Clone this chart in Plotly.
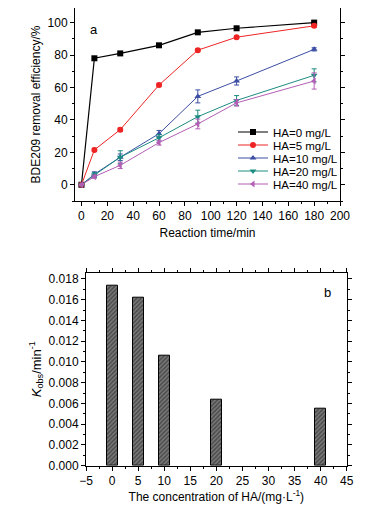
import plotly.graph_objects as go

# ---- Panel a data ----
time_min = [0, 10, 30, 60, 90, 120, 180]
series_names = ["HA=0 mg/L", "HA=5 mg/L", "HA=10 mg/L", "HA=20 mg/L", "HA=40 mg/L"]
ha0 = [0, 78, 81, 86, 94, 96.5, 100]
ha5 = [0, 21.5, 34, 61.5, 83, 91, 98]
ha10 = [0, 6.5, 17, 31.5, 54.5, 64, 83.5]
ha20 = [0, 6, 17, 29, 42, 52, 67.5]
ha40 = [0, 5, 12, 26, 37.5, 50.5, 64]
err0 = [0, 0.8, 0.8, 0.8, 0.8, 0.8, 0.8]
err5 = [0, 1, 1, 1, 1, 1, 1]
err10 = [0, 1.5, 2, 2, 4, 2.5, 1]
err20 = [0, 1.5, 4, 2, 4, 3, 4]
err40 = [0, 1, 2, 1.5, 3, 2, 5]

# ---- Panel b data ----
ha_conc = [0, 5, 10, 20, 40]
kobs = [0.0173, 0.0162, 0.0106, 0.0064, 0.0055]

colors = ["#000000", "#ee2424", "#3b4ea3", "#1c8c80", "#b45db5"]
symbols = ["square", "circle", "triangle-up", "triangle-down", "triangle-left"]
values = [ha0, ha5, ha10, ha20, ha40]
errors = [err0, err5, err10, err20, err40]

FONT = "Liberation Sans, Arial, sans-serif"

# page body has an 8px margin; size figure to fit the window
OFF = 8
W, H = 381 - OFF, 515 - OFF


def px(x):
    return min(1.0, max(0.0, (x - OFF) / W))


def py(y):
    return min(1.0, max(0.0, 1 - (y - OFF) / H))


legend_ids = ["legend", "legend2", "legend3", "legend4", "legend5"]
legend_rows = [132, 145, 158, 171, 184]

fig = go.Figure()
for name, y, e, c, s, lid in zip(series_names, values, errors, colors, symbols, legend_ids):
    fig.add_trace(go.Scatter(
        x=time_min, y=y, name=name, mode="lines+markers",
        line=dict(color=c, width=1.2 if c == "#000000" else 1),
        marker=dict(symbol=s, size=6, color=c),
        error_y=dict(type="data", array=e, color=c, thickness=1, width=2.5),
        xaxis="x", yaxis="y", legend=lid,
    ))

fig.add_trace(go.Bar(
    x=ha_conc, y=kobs, width=2.1, showlegend=False,
    marker=dict(color="#5a5a5a", line=dict(color="#000000", width=1),
                pattern=dict(shape="/", fgcolor="#1a1a1a", bgcolor="#7a7a7a", size=3, solidity=0.5)),
    xaxis="x2", yaxis="y2",
))

axis_common = dict(showline=True, linecolor="#000", linewidth=1, mirror="ticks",
                   ticks="outside", ticklen=4, tickcolor="#000", showgrid=False,
                   zeroline=False, automargin=False,
                   tickfont=dict(size=12, color="#000", family=FONT))

legends = {}
for lid, ry in zip(legend_ids, legend_rows):
    legends[lid] = dict(x=px(233), y=py(ry), xanchor="left", yanchor="middle",
                        bgcolor="rgba(0,0,0,0)", font=dict(size=11.5, family=FONT),
                        itemwidth=30)

fig.update_layout(
    width=W, height=H,
    margin=dict(l=0, r=0, t=0, b=0),
    paper_bgcolor="white", plot_bgcolor="white",
    font=dict(family=FONT, color="#000", size=12),
    xaxis=dict(domain=[px(75), px(340)], range=[-5, 200], dtick=20, tick0=0,
               minor=dict(ticks="outside", ticklen=2, dtick=10, tickcolor="#000"),
               title=dict(text="Reaction time/min", font=dict(size=12), standoff=6),
               anchor="y", **axis_common),
    yaxis=dict(domain=[py(201), py(6)], range=[-10, 109], dtick=20, tick0=0,
               minor=dict(ticks="outside", ticklen=2, dtick=10, tickcolor="#000"),
               title=dict(text="BDE209 removal efficiency/%", font=dict(size=12), standoff=4),
               anchor="x", **axis_common),
    xaxis2=dict(domain=[px(86), px(346.7)], range=[-5, 45], dtick=5, tick0=0,
                minor=dict(ticks="outside", ticklen=2, dtick=2.5, tickcolor="#000"),
                title=dict(text="The concentration of HA/(mg·L<sup>-1</sup>)", font=dict(size=12), standoff=5),
                anchor="y2", **axis_common),
    yaxis2=dict(domain=[py(465.7), py(272.7)], range=[0, 0.0186], dtick=0.002, tick0=0,
                tickformat=".3f",
                minor=dict(ticks="outside", ticklen=2, dtick=0.001, tickcolor="#000"),
                title=dict(text="<i>K</i><sub>obs</sub>/min<sup>-1</sup>", font=dict(size=13), standoff=4),
                anchor="x2", **axis_common),
    annotations=[
        dict(text="a", x=px(88), y=py(20), xref="paper", yref="paper",
             showarrow=False, font=dict(size=13)),
        dict(text="b", x=px(333), y=py(292), xref="paper", yref="paper",
             showarrow=False, font=dict(size=13)),
    ],
    bargap=0,
    **legends,
)

fig.write_html("out.html")
